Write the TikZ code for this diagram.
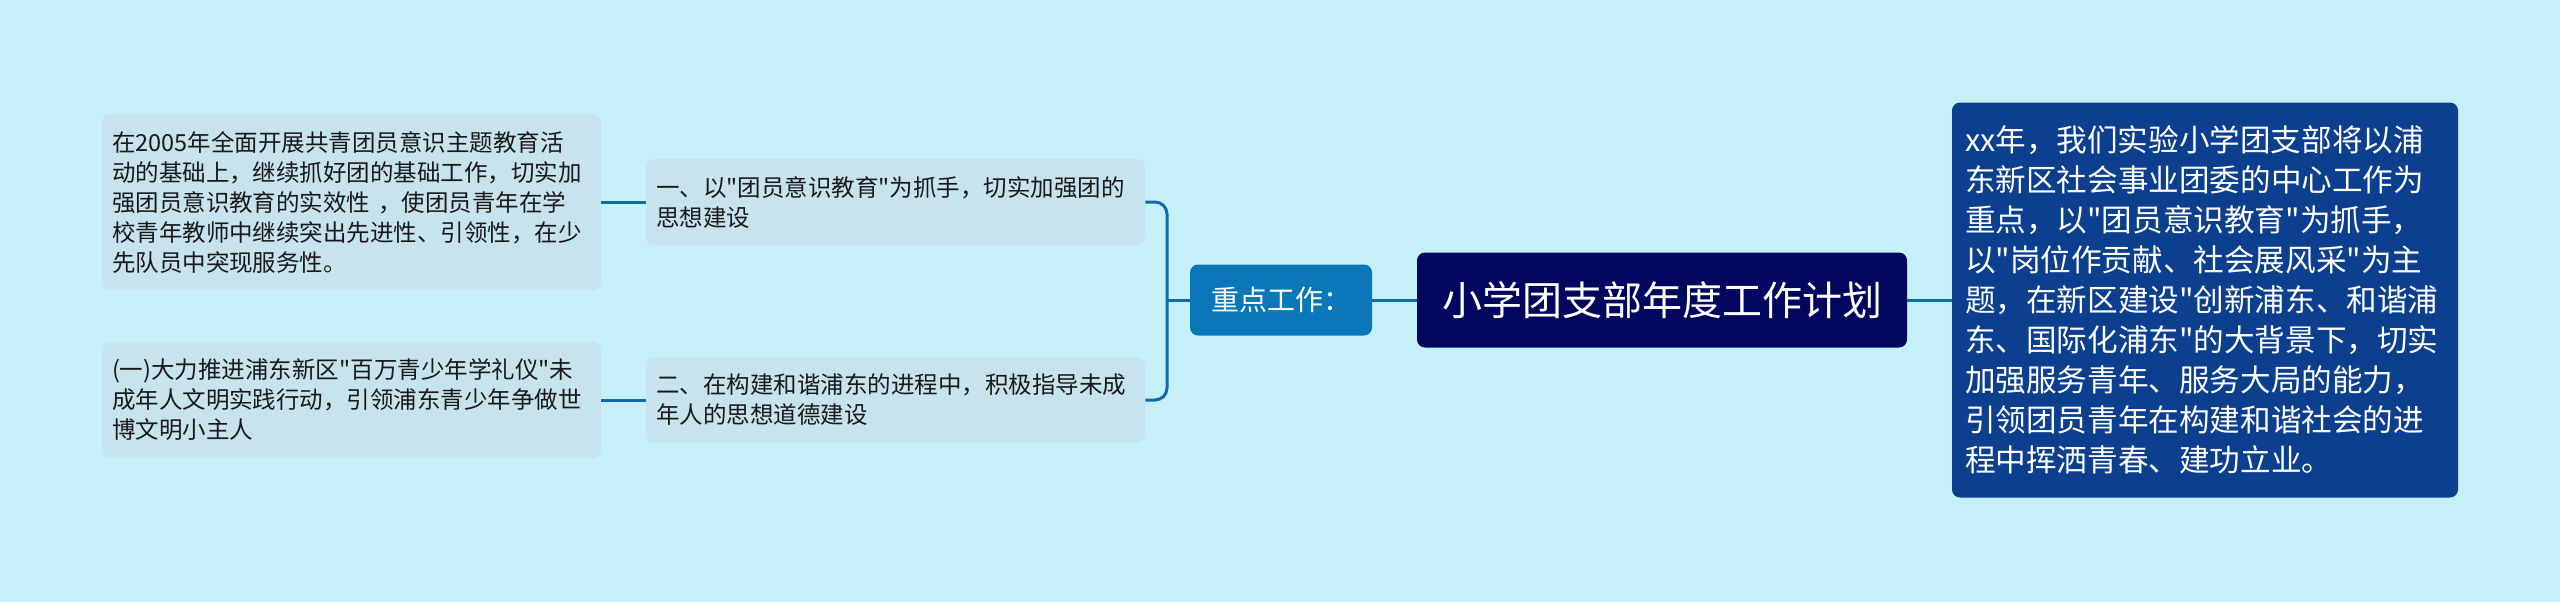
\documentclass[tikz,border=0pt]{standalone}
\usepackage{fontspec}
\usepackage{tikz}
\newfontfamily\cjk{Noto Sans CJK SC}
\definecolor{mBg}{HTML}{C6F0F8}
\definecolor{mLeaf}{HTML}{C7E3EE}
\definecolor{mKey}{HTML}{0A78B8}
\definecolor{mTitle}{HTML}{03065E}
\definecolor{mDesc}{HTML}{0C3F8E}
\definecolor{mLine}{HTML}{0F6AA6}
\colorlet{inkdark}{black!90}

\tikzset{
  leafbox/.style={fill=mLeaf, rounded corners=4pt, inner xsep=5pt, inner ysep=0pt,
    text width=239.5pt, align=left, text=inkdark, font=\cjk\fontsize{11.75}{15}\selectfont},
  subbox/.style={leafbox, minimum height=43pt},
  keybox/.style={fill=mKey, rounded corners=4pt, minimum width=91pt, minimum height=35.5pt,
    inner sep=0pt, text=white, font=\cjk\fontsize{14}{17}\selectfont},
  titlebox/.style={fill=mTitle, rounded corners=4pt, minimum width=245pt, minimum height=47.5pt,
    inner sep=0pt, text=white, font=\cjk\fontsize{20}{24}\selectfont},
  descbox/.style={fill=mDesc, rounded corners=4pt, inner xsep=6.5pt, inner ysep=0pt,
    text width=240pt, minimum height=197.5pt, align=left, text=white,
    font=\cjk\fontsize{15.3}{20}\selectfont},
  link/.style={draw=mLine, line width=1.5pt},
}

\begin{document}
\begin{tikzpicture}[x=0.5pt, y=-0.5pt]
  % canvas: 2560 x 602 px, 1 px = 0.5pt
  \useasboundingbox (0,0) rectangle (2560,602);
  \fill[mBg] (0,0) rectangle (2560,602);

  % root and its description
  \node[titlebox] (root) at (1662,300) {小学团支部年度工作计划};
  \node[descbox] (desc) at (2205,300) {xx年，我们实验小学团支部将以浦\\东新区社会事业团委的中心工作为\\重点，以"团员意识教育"为抓手，\\以"岗位作贡献、社会展风采"为主\\题，在新区建设"创新浦东、和谐浦\\东、国际化浦东"的大背景下，切实\\加强服务青年、服务大局的能力，\\引领团员青年在构建和谐社会的进\\程中挥洒青春、建功立业。};

  % key work branch
  \node[keybox] (key) at (1281,300) {重点工作：};
  \coordinate (fork) at (1167,300);
  \node[subbox] (subA) at (895.5,202) {一、以"团员意识教育"为抓手，切实加强团的\\思想建设};
  \node[subbox] (subB) at (895.5,400) {二、在构建和谐浦东的进程中，积极指导未成\\年人的思想道德建设};

  % leaves
  \node[leafbox, minimum height=88pt] (leafA) at (351.5,202) {在2005年全面开展共青团员意识主题教育活\\动的基础上，继续抓好团的基础工作，切实加\\强团员意识教育的实效性~，使团员青年在学\\校青年教师中继续突出先进性、引领性，在少\\先队员中突现服务性。};
  \node[leafbox, minimum height=58pt] (leafB) at (351.5,400) {(一)大力推进浦东新区"百万青少年学礼仪"未\\成年人文明实践行动，引领浦东青少年争做世\\博文明小主人};

  % connectors
  \draw[link] (root.east) -- (desc.west);
  \draw[link] (key.east) -- (root.west);
  \draw[link] (fork) -- (key.west);
  \draw[link, rounded corners=6pt] (subA.east) -| (fork) |- (subB.east);
  \draw[link] (leafA.east) -- (subA.west);
  \draw[link] (leafB.east) -- (subB.west);
\end{tikzpicture}
\end{document}
